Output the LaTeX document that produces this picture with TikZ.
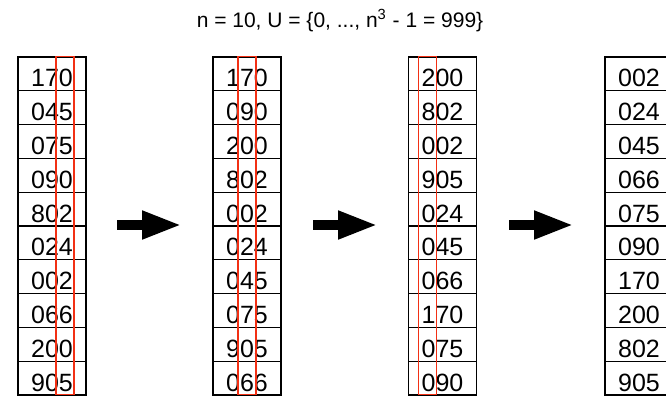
\documentclass[tikz,border=0pt]{standalone}
\usepackage{fontspec}
\setmainfont{Liberation Sans}
\usepackage{tikz}
\usetikzlibrary{positioning, arrows.meta}

\definecolor{digitred}{RGB}{242,48,20}

\begin{document}
\begin{tikzpicture}[
        x=0.5pt, y=-0.5pt,
        cell/.style={draw, line width=0.65pt, minimum width=34pt, minimum height=16.9pt, inner sep=0pt, text height=13pt, text depth=0pt, font=\fontsize{12.5}{14}\selectfont},
        digitbox/.style={draw=digitred, line width=0.7pt, minimum width=9pt, minimum height=169pt, inner sep=0pt},
        bigarrow/.style={line width=5pt, -{Triangle[length=20pt, width=13pt]}},
        title/.style={font=\fontsize{10.5}{12}\selectfont}
    ]
        \useasboundingbox (0,0) rectangle (666,398);

        \node[title] (head) at (340,21) {n = 10, U = \{0, ..., n\textsuperscript{3} - 1 = 999\}};

        % the four passes of the sort
        \foreach \v [count=\i] in {170,045,075,090,802,024,002,066,200,905}
            \node[cell] (a-\i) at (52,{57+33.8*(\i-0.5)}) {\v};
        \foreach \v [count=\i] in {170,090,200,802,002,024,045,075,905,066}
            \node[cell] (b-\i) at (247,{57+33.8*(\i-0.5)}) {\v};
        \foreach \v [count=\i] in {200,802,002,905,024,045,066,170,075,090}
            \node[cell] (c-\i) at (442.5,{57+33.8*(\i-0.5)}) {\v};
        \foreach \v [count=\i] in {002,024,045,066,075,090,170,200,802,905}
            \node[cell] (d-\i) at (639,{57+33.8*(\i-0.5)}) {\v};

        % digit being sorted on
        \node[digitbox] (ones) at (65,225.5) {};
        \node[digitbox] (tens) at (247,225.5) {};
        \node[digitbox] (hundreds) at (427.5,225.5) {};

        \coordinate (s1) at (117,225);
        \coordinate (e1) at (182,225);
        \coordinate (s2) at (313,225);
        \coordinate (e2) at (378,225);
        \coordinate (s3) at (509,225);
        \coordinate (e3) at (574,225);
        \draw[bigarrow] (s1) -- (e1);
        \draw[bigarrow] (s2) -- (e2);
        \draw[bigarrow] (s3) -- (e3);
    \end{tikzpicture}
\end{document}
